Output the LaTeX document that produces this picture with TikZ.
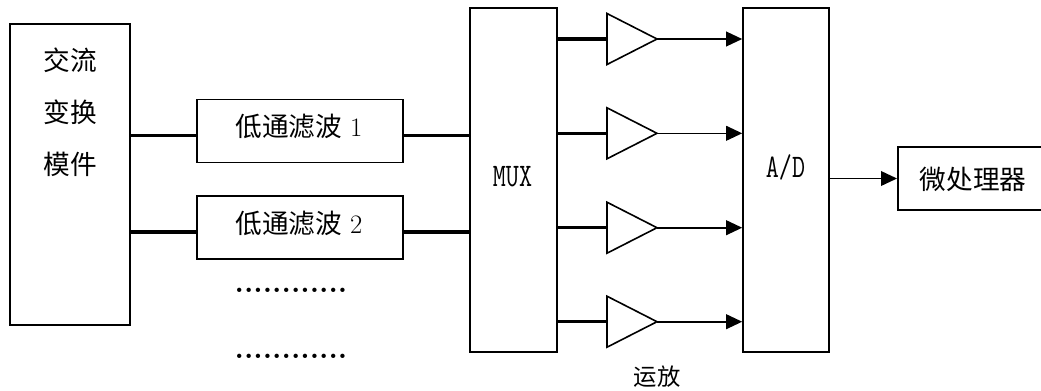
\documentclass[tikz,border=0pt]{standalone}
\usepackage{fontspec}
\newfontfamily\cjk{Noto Sans CJK SC}
\usetikzlibrary{arrows.meta}
\begin{document}
\begin{tikzpicture}[x=0.75pt,y=-0.75pt,
  box/.style={draw, line width=1.2pt, inner sep=0pt},
  wire/.style={line width=2.3pt},
  sig/.style={line width=1.2pt, -{Triangle[length=12pt,width=11pt]}},
  amp/.style={draw, line width=1.2pt, line join=miter},
  cjktext/.style={font=\cjk\fontsize{20pt}{39pt}\selectfont, inner sep=0pt},
  smalltext/.style={font=\cjk\fontsize{17.5pt}{21pt}\selectfont, inner sep=0pt},
  dotrow/.style={font=\rmfamily\bfseries\fontsize{22.5pt}{26pt}\selectfont, inner sep=0pt},
  monotext/.style={font=\ttfamily\fontsize{19pt}{22pt}\selectfont, inner sep=0pt}]
\useasboundingbox (0,0) rectangle (1041,390);
\clip (0,0) rectangle (1041,390);

% AC transform module
\node[box, minimum width=90pt, minimum height=225.75pt] (ac) at (70,174.5) {};
\node[cjktext, align=center] (actext) at (70,112) {交流\\变换\\模件};

% low-pass filters
\node[box, minimum width=154.5pt, minimum height=47.25pt] (f1) at (300,130.8) {};
\node[cjktext] (f1t) at (299,126.5) {低通滤波\hspace{6pt}{\rmfamily 1}};
\node[box, minimum width=154.5pt, minimum height=47.25pt] (f2) at (300,227.2) {};
\node[cjktext] (f2t) at (299,223) {低通滤波\hspace{6pt}{\rmfamily 2}};
\node[dotrow] (dots1) at (291,290) {............};
\node[dotrow] (dots2) at (291,356) {............};

% MUX
\node[box, minimum width=65.25pt, minimum height=258pt] (mux) at (513.5,180) {};
\node[monotext] (muxt) at (512.5,177) {\scalebox{1}[1.3]{MUX}};

% A/D
\node[box, minimum width=64.5pt, minimum height=258pt] (ad) at (786,180) {};
\node[monotext] (adt) at (785.5,167) {\scalebox{1}[1.3]{A/D}};

% microprocessor
\node[box, minimum width=132pt, minimum height=47.25pt, anchor=west] (up) at (897,178.5) {};
\node[cjktext] (upt) at (973,179) {微处理器};

% op-amp label
\node[smalltext] (opamp) at (657,377) {运放};

% connections to filters
\coordinate (r1) at (0,135.3);
\coordinate (r2) at (0,232);
\draw[wire] (ac.east |- r1) -- (f1.west |- r1);
\draw[wire] (f1.east |- r1) -- (mux.west |- r1);
\draw[wire] (ac.east |- r2) -- (f2.west |- r2);
\draw[wire] (f2.east |- r2) -- (mux.west |- r2);

% amplifiers
\foreach \i/\yy in {1/39,2/133.3,3/227.7,4/321.7} {
  \coordinate (ain\i) at (607,\yy);
  \coordinate (aout\i) at (657,\yy);
  \draw[amp] (607,\yy-25.5) -- (657,\yy) -- (607,\yy+25.5) -- cycle;
  \draw[wire] (mux.east |- ain\i) -- (ain\i);
  \draw[sig] (aout\i) -- (ad.west |- aout\i);
}

% output
\draw[sig] (ad.east |- up.west) -- (up.west);
\end{tikzpicture}
\end{document}
